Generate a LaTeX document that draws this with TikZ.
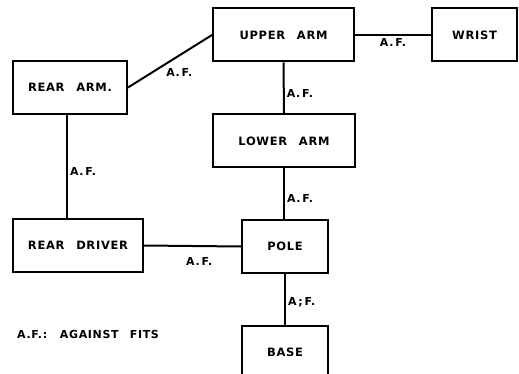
\documentclass[tikz,border=0pt]{standalone}
\usepackage{fontspec}
\setmainfont{DejaVu Sans}[LetterSpace=6,WordSpace=2.5]
\usetikzlibrary{positioning}
\tikzset{
  bloco/.style={rectangle,draw=black,line width=2pt,minimum height=53pt,
    inner sep=0pt,font=\bfseries\fontsize{11.5}{13}\selectfont},
  ligacao/.style={line width=2pt},
  rotulo/.style={font=\bfseries\fontsize{11}{13}\selectfont,inner sep=2pt}
}

\begin{document}
\begin{tikzpicture}[x=1pt,y=-1pt]
\useasboundingbox (0,0) rectangle (519,374);
% blocos
\node[bloco,minimum width=141pt] (upperarm) at (283.5,35) {UPPER ARM};
\node[bloco,minimum width=85pt] (wrist) at (474.5,35) {WRIST};
\node[bloco,minimum width=114pt] (reararm) at (70,87.5) {REAR ARM.};
\node[bloco,minimum width=142pt] (lowerarm) at (284,141) {LOWER ARM};
\node[bloco,minimum width=130pt] (reardriver) at (78,245.5) {REAR DRIVER};
\node[bloco,minimum width=86pt] (pole) at (285,246.5) {POLE};
\node[bloco,minimum width=86pt,anchor=north] (base) at (285,325) {BASE};
\node[rotulo,anchor=west] (nota) at (15,334) {A.F.: AGAINST FITS};
% ligacoes
\draw[ligacao] (reararm.east) -- (upperarm.west)
  node[rotulo,pos=0.42,anchor=north west] {A.\,F.};
\draw[ligacao] (upperarm.east) -- (wrist.west)
  node[rotulo,midway,below] {A.\,F.};
\draw[ligacao] (upperarm.south) -- (lowerarm.north)
  node[rotulo,pos=0.6,right] {A.\,F.};
\draw[ligacao] ([xshift=-3pt]reararm.south) -- ([xshift=-3pt]reararm.south |- reardriver.north)
  node[rotulo,pos=0.55,right] {A.\,F.};
\draw[ligacao] (lowerarm.south) -- (lowerarm.south |- pole.north)
  node[rotulo,pos=0.6,right] {A.\,F.};
\draw[ligacao] (reardriver.east) -- (pole.west)
  node[rotulo,pos=0.57,below=8pt] {A.\,F.};
\draw[ligacao] (pole.south) -- (base.north)
  node[rotulo,pos=0.55,right] {A\,;\,F.};
\end{tikzpicture}
\end{document}
